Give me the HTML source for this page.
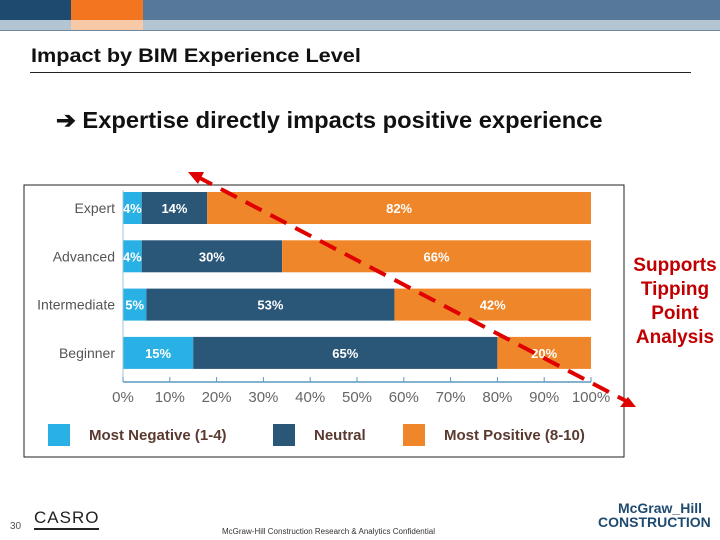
<!DOCTYPE html>
<html><head><meta charset="utf-8"><style>
body{margin:0;width:720px;height:540px;overflow:hidden;background:#fff;font-family:"Liberation Sans",sans-serif;position:relative}
.a{position:absolute}
</style></head><body>
<div class="a" style="left:0;top:0;width:720px;height:20px;background:#56799a"></div>
<div class="a" style="left:0;top:20px;width:720px;height:10px;background:#b3c4d3;border-bottom:1px solid #6d879f"></div>
<div class="a" style="left:0;top:0;width:71px;height:20px;background:#1f4a70"></div>
<div class="a" style="left:71px;top:0;width:72px;height:20px;background:#f47520"></div>
<div class="a" style="left:71px;top:20px;width:72px;height:10px;background:#f8c9a6"></div>
<div class="a" style="left:31px;top:46px;font-size:19px;font-weight:bold;color:#111;transform:scaleX(1.14);transform-origin:left">Impact by BIM Experience Level</div>
<div class="a" style="left:30px;top:72px;width:661px;height:1px;background:#222"></div>
<div class="a" style="left:56px;top:107px;font-size:23px;font-weight:bold;color:#111;transform:scaleX(1.03);transform-origin:left">➔ Expertise directly impacts positive experience</div>
<div class="a" style="left:626px;top:254px;width:98px;text-align:center;font-size:19px;font-weight:bold;line-height:24px;color:#c00000">Supports Tipping Point Analysis</div>
<svg class="a" style="left:0;top:0" width="720" height="540" id="chart">
<rect x="24" y="185" width="600" height="272" fill="#fff" stroke="#222" stroke-width="1"/>
<g id="g"></g>
</svg>
<div class="a" style="left:10px;top:521px;font-size:10px;color:#555">30</div>
<div class="a" style="left:34px;top:508px;font-size:17px;letter-spacing:1px;color:#222;border-bottom:2px solid #222">CASRO</div>
<div class="a" style="left:222px;top:527px;font-size:8px;color:#333">McGraw-Hill Construction Research &amp; Analytics Confidential</div>
<div class="a" style="left:598px;top:501px;width:104px;text-align:right;font-size:14px;font-weight:bold;line-height:14px;color:#1f4a70">McGraw_Hill<br>CONSTRUCTION</div>
<script>
const categories=["Expert","Advanced","Intermediate","Beginner"];
const negative=[4,4,5,15];
const neutral=[14,30,53,65];
const positive=[82,66,42,20];
const ticks=[0,10,20,30,40,50,60,70,80,90,100];
const legendLabels=["Most Negative (1-4)","Neutral","Most Positive (8-10)"];
const colors=["#29b0e4","#2a5677","#f0862a"];
const NS="http://www.w3.org/2000/svg";
const g=document.getElementById('g');
const x=v=>123+v*4.68;
const y=i=>192+i*48.3;
const bh=32;
function mk(t,a){const e=document.createElementNS(NS,t);for(const k in a)e.setAttribute(k,a[k]);g.appendChild(e);return e;}
const series=[negative,neutral,positive];
categories.forEach((c,i)=>{
  let t=mk('text',{x:115,y:y(i)+bh/2+5,'text-anchor':'end','font-size':14,fill:'#555'});t.textContent=c;
  
  
  let acc=0;
  series.forEach((s,k)=>{
    const r=mk('rect',{x:x(acc),y:y(i),width:x(acc+s[i])-x(acc),height:bh,fill:colors[k]});
    
    
    const l=mk('text',{x:(x(acc)+x(acc+s[i]))/2,y:y(i)+bh/2+5,'text-anchor':'middle','font-size':13,'font-weight':'bold',fill:'#fff'});
    l.textContent=s[i]+'%';
    
    
    acc+=s[i];
  });
});
const ax=mk('line',{x1:x(0),x2:x(100),y1:382,y2:382,stroke:'#5a9ac0','stroke-width':1.5});


const ya=mk('line',{x1:x(0),x2:x(0),y1:190,y2:382,stroke:'#9cc3da','stroke-width':1});


ticks.forEach(v=>{
  const tl=mk('line',{x1:x(v),x2:x(v),y1:377,y2:382,stroke:'#5a9ac0'});
  
  
  const t=mk('text',{x:x(v),y:402,'text-anchor':'middle','font-size':15,fill:'#666'});
  t.textContent=v+'%';
  
  
});
const lx=[48,273,403];
legendLabels.forEach((lab,k)=>{
  const r=mk('rect',{x:lx[k],y:424,width:22,height:22,fill:colors[k]});
  
  
  const t=mk('text',{x:lx[k]+41,y:440,'font-size':15,'font-weight':'bold',fill:'#5a3a30'});t.textContent=lab;
  
  
});
const ln=mk('line',{x1:196,y1:176,x2:628,y2:402,stroke:'#e00000','stroke-width':4,'stroke-dasharray':'18,10'});


const h1=mk('polygon',{points:'188,172 204,172 198,184',fill:'#e00000'});


const h2=mk('polygon',{points:'628,397 636,407 620,407',fill:'#e00000'});


</script>
</body></html>
